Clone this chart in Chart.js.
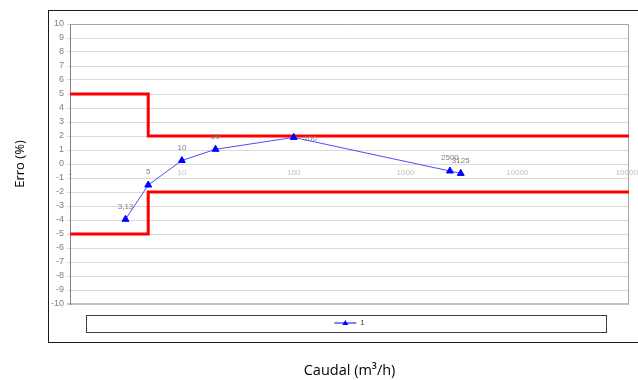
<!DOCTYPE html>
<html>
<head>
<meta charset="utf-8">
<script src="https://cdn.jsdelivr.net/npm/chart.js@4.4.1/dist/chart.umd.min.js"></script>
<style>
  html, body { margin: 0; padding: 0; background: #fff; }
  #wrap { width: 638px; height: 380px; }
</style>
</head>
<body>
<div id="wrap"><canvas id="myChart"></canvas></div>
<script>
// Measured series: flow (m3/h) vs error (%)
const flowRates = [3.13, 5, 10, 20, 100, 2500, 3125];
const errors = [-3.95, -1.5, 0.25, 1.05, 1.9, -0.5, -0.67];
const seriesName = '1';

// Maximum permissible error limits
const limitFlows = [1, 5, 5, 100000];
const upperLimit = [5, 5, 2, 2];
const lowerLimit = [-5, -5, -2, -2];

// Axis ticks
const xTicks = [1, 10, 100, 1000, 10000, 100000];
const yMin = -10;
const yMax = 10;

const toPoints = (xs, ys) => xs.map((x, i) => ({ x: x, y: ys[i] }));

// Point labels like Excel data labels ("3,13")
const pointLabels = {
  id: 'pointLabels',
  afterDatasetsDraw(chart) {
    const meta = chart.getDatasetMeta(0);
    const ctx = chart.ctx;
    ctx.save();
    ctx.font = '8px "Liberation Sans", Arial, sans-serif';
    ctx.fillStyle = '#808080';
    ctx.textBaseline = 'middle';
    meta.data.forEach((pt, i) => {
      const txt = String(flowRates[i]).replace('.', ',');
      if (flowRates[i] === 100) {
        ctx.textAlign = 'left';
        ctx.fillText(txt, pt.x + 10, pt.y + 1);
      } else {
        ctx.textAlign = 'center';
        ctx.fillText(txt, pt.x, pt.y - 13);
      }
    });
    ctx.restore();
  }
};

// Frames: outer chart border, plot area border, legend box
const frames = {
  id: 'frames',
  beforeDatasetsDraw(chart) {
    const a = chart.chartArea;
    const ctx = chart.ctx;
    ctx.save();
    ctx.strokeStyle = '#a6a6a6';
    ctx.lineWidth = 1;
    ctx.beginPath();
    ctx.moveTo(a.left, a.top + 0.5);
    ctx.lineTo(a.right - 0.5, a.top + 0.5);
    ctx.lineTo(a.right - 0.5, a.bottom);
    ctx.stroke();
    ctx.restore();
  },
  afterDraw(chart) {
    const ctx = chart.ctx;
    ctx.save();
    ctx.strokeStyle = '#1a1a1a';
    ctx.lineWidth = 1;
    ctx.strokeRect(48.5, 10.5, 600, 332);
    ctx.strokeStyle = '#404040';
    ctx.strokeRect(86.5, 315.5, 520, 17);
    // triangle marker on the legend line
    const hb = chart.legend.legendHitBoxes[0];
    if (hb) {
      const cx = hb.left + 11;
      const cy = hb.top + hb.height / 2;
      ctx.fillStyle = '#0000ff';
      ctx.beginPath();
      ctx.moveTo(cx, cy - 3);
      ctx.lineTo(cx + 3, cy + 2);
      ctx.lineTo(cx - 3, cy + 2);
      ctx.closePath();
      ctx.fill();
    }
    ctx.restore();
  }
};

const ctx = document.getElementById('myChart');

new Chart(ctx, {
  type: 'scatter',
  data: {
    datasets: [
      {
        label: seriesName,
        data: toPoints(flowRates, errors),
        showLine: true,
        borderColor: '#4d4dff',
        borderWidth: 1,
        pointStyle: 'triangle',
        pointRadius: 4,
        pointBackgroundColor: '#0000ff',
        pointBorderColor: '#0000ff',
        pointBorderWidth: 1
      },
      {
        label: 'upper',
        data: toPoints(limitFlows, upperLimit),
        showLine: true,
        borderColor: '#ff0000',
        borderWidth: 3,
        pointRadius: 0
      },
      {
        label: 'lower',
        data: toPoints(limitFlows, lowerLimit),
        showLine: true,
        borderColor: '#ff0000',
        borderWidth: 3,
        pointRadius: 0
      }
    ]
  },
  options: {
    responsive: true,
    maintainAspectRatio: false,
    animation: false,
    layout: { padding: { left: 4, top: 24, right: 9, bottom: 0 } },
    scales: {
      x: {
        type: 'logarithmic',
        position: { y: 0 },
        min: 1,
        max: 100000,
        afterBuildTicks: (scale) => {
          scale.ticks = xTicks.map(v => ({ value: v }));
        },
        afterFit: (scale) => {
          scale.paddingLeft = 0;
          scale.paddingRight = 0;
        },
        grid: { display: false, drawTicks: false },
        border: { display: false },
        ticks: {
          autoSkip: false,
          maxRotation: 0,
          padding: 4,
          color: '#c0c0c0',
          font: { family: '"Liberation Sans", Arial, sans-serif', size: 8 },
          callback: (v) => String(v)
        }
      },
      y: {
        min: yMin,
        max: yMax,
        ticks: {
          stepSize: 1,
          padding: 3,
          color: '#7f7f7f',
          font: { family: '"Liberation Sans", Arial, sans-serif', size: 9 }
        },
        grid: {
          color: (c) => c.tick && c.tick.value === yMin ? '#c0c0c0' : '#d9d9d9',
          lineWidth: (c) => c.tick && c.tick.value === yMin ? 2 : 1,
          tickLength: 3
        },
        border: { display: true, color: '#808080', width: 1 },
        title: {
          display: true,
          text: 'Erro (%)',
          color: '#000',
          font: { family: '"Open Sans", sans-serif', size: 13 },
          padding: { top: 8, bottom: 20.5 }
        }
      }
    },
    plugins: {
      tooltip: { enabled: false },
      legend: {
        position: 'bottom',
        fullSize: false,
        labels: {
          filter: (item) => item.datasetIndex === 0,
          usePointStyle: true,
          pointStyle: 'line',
          pointStyleWidth: 22,
          color: '#404040',
          font: { family: '"Liberation Sans", Arial, sans-serif', size: 8 },
          padding: 15
        }
      },
      title: {
        display: true,
        position: 'bottom',
        fullSize: false,
        text: 'Caudal (m³/h)',
        color: '#000',
        font: { family: '"Open Sans", sans-serif', size: 14.5, weight: 'normal' },
        padding: { top: 25.6, bottom: 0 }
      }
    }
  },
  plugins: [frames, pointLabels]
});
</script>
</body>
</html>
